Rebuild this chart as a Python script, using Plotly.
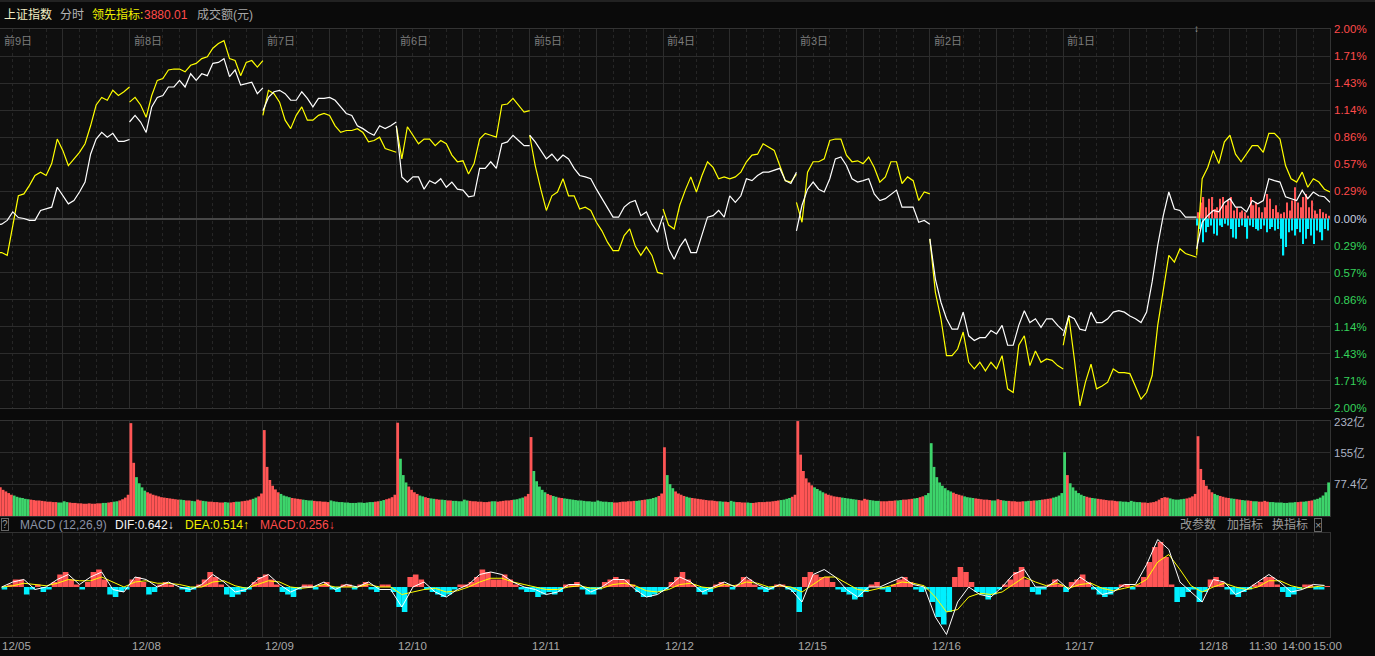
import plotly.graph_objects as go

# ---------------- data ----------------
DATES = ["12/05", "12/08", "12/09", "12/10", "12/11", "12/12", "12/15", "12/16", "12/17", "12/18"]
DAY_TAGS = ["前9日", "前8日", "前7日", "前6日", "前5日", "前4日", "前3日", "前2日", "前1日"]
TIME_LABELS = ["11:30", "14:00", "15:00"]
TIME_LABEL_MIN = [120, 180, 240]
DAY_MIN = 240          # trading minutes per day
PRICE_STEP = 10        # minutes between price samples
VOL_STEP = 5           # minutes per volume bar
HIST_STEP = 10         # minutes per MACD bar
LINE_STEP = 20         # minutes between DIF/DEA samples

LEAD_VALUE = "3880.01"
DIF_NOW, DEA_NOW, MACD_NOW = "0.642", "0.514", "0.256"

# 上证指数 (white) % change, one list per day, every 10 min
INDEX_PCT = [
    [-0.07, -0.06, -0.02, 0.07, 0.01, 0.0, -0.02, -0.02, 0.085, 0.10, 0.12, 0.33, 0.24, 0.155, 0.19, 0.28, 0.385, 0.68, 0.84, 0.91, 0.86, 0.90, 0.815, 0.815, 0.835],
    [1.02, 1.09, 1.02, 0.91, 1.18, 1.28, 1.30, 1.39, 1.39, 1.46, 1.39, 1.53, 1.46, 1.53, 1.51, 1.64, 1.65, 1.69, 1.50, 1.57, 1.41, 1.425, 1.44, 1.32, 1.38],
    [1.14, 1.28, 1.34, 1.355, 1.32, 1.25, 1.25, 1.34, 1.27, 1.18, 1.27, 1.27, 1.28, 1.25, 1.18, 1.11, 1.09, 0.98, 0.95, 0.91, 0.88, 0.98, 0.95, 0.98, 1.02],
    [0.98, 0.44, 0.385, 0.44, 0.44, 0.31, 0.40, 0.37, 0.42, 0.33, 0.385, 0.31, 0.30, 0.23, 0.24, 0.53, 0.53, 0.60, 0.53, 0.79, 0.81, 0.88, 0.825, 0.77, 0.77],
    [0.88, 0.81, 0.72, 0.63, 0.68, 0.61, 0.67, 0.63, 0.53, 0.455, 0.44, 0.42, 0.31, 0.21, 0.12, 0.014, 0.014, 0.12, 0.17, 0.19, 0.03, 0.07, -0.06, -0.145, 0.03],
    [-0.04, -0.32, -0.43, -0.30, -0.215, -0.36, -0.36, -0.18, 0.014, 0.03, 0.085, 0.014, 0.24, 0.17, 0.24, 0.42, 0.40, 0.455, 0.49, 0.49, 0.51, 0.53, 0.40, 0.37, 0.49],
    [-0.13, 0.14, 0.31, 0.385, 0.31, 0.28, 0.42, 0.63, 0.65, 0.56, 0.42, 0.385, 0.40, 0.42, 0.26, 0.19, 0.21, 0.26, 0.30, 0.12, 0.12, 0.12, -0.04, -0.02, -0.06],
    [-0.215, -0.64, -0.885, -1.06, -1.17, -1.17, -0.99, -1.24, -1.29, -1.26, -1.26, -1.185, -1.22, -1.13, -1.34, -1.34, -1.13, -0.975, -1.10, -1.06, -1.15, -1.06, -1.06, -1.13, -1.185],
    [-1.24, -1.03, -1.06, -1.17, -1.185, -0.99, -1.10, -1.10, -1.06, -0.99, -0.975, -0.99, -1.03, -1.06, -1.10, -0.99, -0.67, -0.285, 0.03, 0.28, 0.10, 0.085, 0.014, 0.014, 0.014],
    [-0.32, -0.04, 0.03, 0.085, 0.07, 0.17, 0.21, 0.12, 0.12, 0.07, 0.19, 0.155, 0.19, 0.42, 0.40, 0.385, 0.23, 0.21, 0.19, 0.30, 0.21, 0.28, 0.24, 0.23, 0.17],
]

# 领先指标 (yellow) % change, one list per day, every 10 min
LEAD_PCT = [
    [-0.36, -0.36, -0.39, -0.07, 0.24, 0.26, 0.35, 0.455, 0.49, 0.455, 0.58, 0.84, 0.72, 0.56, 0.63, 0.70, 0.79, 0.98, 1.20, 1.28, 1.25, 1.355, 1.30, 1.34, 1.39],
    [1.23, 1.28, 1.20, 1.07, 1.30, 1.46, 1.48, 1.57, 1.58, 1.58, 1.55, 1.62, 1.64, 1.69, 1.71, 1.80, 1.85, 1.88, 1.69, 1.67, 1.51, 1.65, 1.67, 1.60, 1.67],
    [1.09, 1.355, 1.32, 1.23, 1.04, 0.95, 1.09, 1.18, 1.04, 1.04, 1.09, 1.11, 1.09, 0.98, 0.91, 0.93, 0.93, 0.95, 0.91, 0.81, 0.825, 0.86, 0.74, 0.72, 0.70],
    [0.98, 0.63, 0.97, 0.88, 0.79, 0.84, 0.84, 0.77, 0.825, 0.79, 0.67, 0.60, 0.61, 0.47, 0.58, 0.84, 0.90, 0.88, 0.86, 1.20, 1.21, 1.27, 1.20, 1.125, 1.14],
    [0.88, 0.56, 0.31, 0.085, 0.24, 0.28, 0.42, 0.24, 0.24, 0.10, 0.12, 0.085, -0.04, -0.13, -0.25, -0.34, -0.34, -0.18, -0.11, -0.29, -0.39, -0.30, -0.39, -0.57, -0.585],
    [0.10, -0.07, -0.11, 0.14, 0.30, 0.44, 0.28, 0.455, 0.60, 0.54, 0.42, 0.44, 0.42, 0.44, 0.49, 0.60, 0.67, 0.68, 0.79, 0.755, 0.72, 0.56, 0.40, 0.385, 0.47],
    [0.17, -0.04, 0.49, 0.60, 0.60, 0.63, 0.825, 0.84, 0.84, 0.67, 0.60, 0.61, 0.58, 0.65, 0.54, 0.385, 0.44, 0.60, 0.60, 0.37, 0.44, 0.40, 0.19, 0.28, 0.26],
    [-0.215, -0.78, -1.06, -1.45, -1.45, -1.38, -1.20, -1.52, -1.59, -1.52, -1.61, -1.52, -1.59, -1.45, -1.80, -1.84, -1.34, -1.24, -1.555, -1.40, -1.52, -1.485, -1.50, -1.555, -1.59],
    [-1.34, -1.03, -1.485, -1.98, -1.73, -1.54, -1.80, -1.77, -1.73, -1.59, -1.63, -1.63, -1.64, -1.77, -1.91, -1.84, -1.66, -1.13, -0.745, -0.39, -0.46, -0.32, -0.37, -0.39, -0.41],
    [-0.39, 0.42, 0.54, 0.72, 0.58, 0.81, 0.88, 0.68, 0.60, 0.68, 0.77, 0.77, 0.70, 0.90, 0.90, 0.84, 0.56, 0.42, 0.385, 0.49, 0.33, 0.42, 0.385, 0.31, 0.28],
]

# today's red / cyan strength bars around the zero line (%), every 5 min
TODAY_UP = [0.067, 0.17, 0.226, 0.12, 0.21, 0.226, 0.10, 0.12, 0.21, 0.226, 0.14, 0.19, 0.226, 0.085, 0.12, 0.067,
            0.085, 0.067, 0.03, 0.226, 0.14, 0.17, 0.12, 0.067, 0.12, 0.26, 0.21, 0.10, 0.14, 0.067, 0.05, 0.067,
            0.17, 0.085, 0.19, 0.33, 0.17, 0.12, 0.226, 0.26, 0.12, 0.19, 0.085, 0.05, 0.10, 0.067, 0.05, 0.03]
TODAY_DOWN = [-0.074, -0.11, -0.25, -0.145, -0.09, -0.074, -0.16, -0.18, -0.074, -0.09, -0.056, -0.074, -0.11, -0.2, -0.215, -0.09,
              -0.074, -0.09, -0.215, -0.074, -0.09, -0.11, -0.127, -0.11, -0.074, -0.145, -0.11, -0.09, -0.127, -0.11, -0.215, -0.39,
              -0.30, -0.145, -0.127, -0.18, -0.11, -0.145, -0.27, -0.215, -0.11, -0.18, -0.27, -0.127, -0.145, -0.23, -0.11, -0.127]

# 成交额 per minute (亿), one list per day, 5-min bars
VOLUME = [
    [78, 70, 64, 60, 56, 52, 50, 47, 45, 44, 42, 41, 40, 39, 38, 38, 37, 36, 35, 35, 34, 34, 33, 33, 36, 34, 33, 32, 32, 31, 31, 30, 30, 31, 30, 30, 31, 31, 32, 32, 33, 34, 35, 36, 38, 41, 45, 52],
    [227, 130, 95, 80, 70, 62, 58, 55, 52, 50, 48, 46, 45, 44, 43, 42, 41, 40, 40, 39, 38, 38, 37, 36, 40, 38, 37, 36, 35, 35, 34, 34, 33, 33, 34, 33, 33, 34, 35, 35, 36, 37, 38, 40, 42, 45, 48, 55],
    [210, 120, 88, 74, 65, 58, 54, 50, 48, 46, 44, 43, 42, 41, 40, 39, 38, 38, 37, 36, 36, 35, 35, 34, 38, 36, 35, 34, 34, 33, 33, 32, 32, 32, 33, 33, 32, 33, 34, 34, 35, 36, 37, 39, 41, 43, 46, 52],
    [228, 140, 100, 82, 72, 64, 58, 54, 50, 48, 46, 44, 43, 42, 41, 40, 40, 39, 38, 38, 37, 37, 36, 36, 40, 38, 37, 36, 36, 35, 35, 34, 34, 35, 36, 36, 35, 36, 37, 38, 38, 39, 40, 41, 43, 45, 48, 54],
    [193, 110, 85, 72, 64, 58, 54, 51, 49, 47, 45, 44, 43, 42, 41, 40, 39, 38, 38, 37, 36, 36, 35, 35, 38, 36, 35, 35, 34, 34, 33, 33, 34, 35, 35, 36, 36, 37, 37, 38, 39, 40, 41, 42, 44, 46, 49, 55],
    [168, 100, 78, 68, 60, 55, 52, 49, 47, 45, 44, 43, 42, 41, 40, 39, 38, 38, 37, 36, 36, 35, 35, 34, 37, 35, 34, 34, 33, 33, 33, 32, 32, 33, 34, 34, 34, 35, 35, 36, 37, 38, 39, 40, 42, 44, 47, 52],
    [232, 150, 110, 92, 82, 75, 70, 66, 62, 58, 55, 52, 50, 48, 47, 46, 45, 44, 43, 42, 41, 40, 39, 38, 42, 40, 39, 38, 37, 37, 36, 36, 36, 37, 37, 38, 38, 39, 40, 40, 41, 42, 43, 44, 46, 48, 51, 56],
    [178, 120, 95, 82, 74, 68, 63, 60, 57, 54, 52, 50, 48, 46, 45, 44, 43, 42, 41, 40, 40, 39, 38, 38, 41, 39, 38, 37, 37, 36, 36, 35, 35, 36, 36, 37, 37, 38, 38, 39, 40, 41, 42, 43, 45, 47, 50, 56],
    [156, 100, 80, 70, 62, 56, 52, 49, 47, 45, 44, 43, 42, 41, 40, 39, 38, 38, 37, 36, 36, 35, 35, 34, 37, 35, 34, 34, 33, 33, 32, 33, 34, 36, 40, 44, 46, 45, 43, 41, 40, 40, 41, 42, 43, 45, 48, 54],
    [195, 115, 88, 74, 65, 58, 54, 51, 49, 47, 45, 44, 43, 42, 41, 40, 39, 38, 38, 37, 36, 36, 35, 35, 37, 35, 34, 34, 33, 33, 33, 32, 32, 33, 33, 34, 34, 35, 35, 36, 37, 38, 40, 42, 45, 50, 58, 82],
]
# colour of each day's opening volume bar as seen in the picture (True = red)
OPEN_BAR_UP = [True, True, True, True, True, True, True, False, False, True]

# MACD histogram, one list per day, 10-min bars
MACD_HIST = [
    [0, -1, 1, 3, 3, -3, -1, 1, -2, -1, 2, 5, 6, 3, 1, -1, 2, 6, 7, 3, -3, -4, -2, -1],
    [3, 4, 2, -3, -2, 1, 2, 1, 0, -1, -2, -1, 1, 3, 6, 4, 1, -3, -4, -3, -2, -1, 2, 4],
    [5, 3, 1, -2, -3, -4, -1, 1, 1, -1, 1, 2, -1, -2, 1, 1, -1, 1, 2, -1, -2, 1, 1, -2],
    [-8, -10, 4, 5, 3, -1, -2, -3, -4, -3, -1, 1, 1, 2, 4, 7, 6, 3, 3, 5, 3, 1, -1, -2],
    [-2, -4, -3, -2, -3, -2, 1, 1, 2, -1, -3, -3, -1, 2, 3, 4, 3, 3, 1, -2, -4, -4, -3, -2],
    [-1, 2, 4, 6, 3, 1, -2, -3, -2, 1, 2, 1, -1, 1, 4, 3, 1, -1, -2, -1, 1, 1, -1, -2],
    [-10, 4, 6, 5, 4, 4, 2, -1, -2, -3, -5, -4, -2, 1, 2, -1, -2, 1, 3, 4, 2, -1, -2, -1],
    [-6, -12, -15, -10, 4, 8, 6, 2, -2, -3, -5, -3, -1, 1, 3, 6, 8, 3, -2, -3, -1, 1, 3, 1],
    [-2, 2, 3, 5, 2, -1, -3, -4, -3, -1, 1, 1, -1, 1, 4, 10, 16, 18, 12, 1, -6, -4, -2, -1],
    [-6, -2, 3, 4, 2, -1, -3, -4, -2, -1, 1, 2, 4, 4, 1, -2, -4, -3, -1, 1, 1, -1, -1, 0.26],
]

# DIF (white) and DEA (yellow), one list per day, every 20 min
DIF = [
    [0, 2, 3, -1, 0, 3, 5, 1, 4, 6, -1, -2],
    [4, 3, 0, 2, 0, -1, 1, 5, 2, -2, -1, 3],
    [5, 1, -2, 0, 0, 2, -1, 1, 0, 2, -1, -1],
    [-8, 0, 2, -2, -4, -1, 1, 5, 6, 5, 2, 0],
    [-1, -3, -2, 1, 1, -2, 0, 3, 3, -1, -4, -3],
    [0, 4, 2, -2, 0, 2, 0, 4, 1, -1, 1, -1],
    [-6, 5, 7, 4, -1, -4, 0, 0, 2, 4, 1, 0],
    [-12, -19, -6, 0, -3, -4, 0, 5, 7, 0, 0, 3],
    [-1, 4, 1, -3, -2, 1, 1, 9, 19, 15, 2, -2],
    [-6, 3, 2, -3, -1, 2, 5, 2, -2, -1, 1, 0.64],
]
DEA = [
    [0, 0.5, 1.5, 1, 0.5, 1.5, 3, 2.5, 2.5, 4, 2, 0],
    [2, 2.5, 1.5, 1.5, 1, 0, 0, 2, 2.5, 0.5, -0.5, 1],
    [2.5, 2, 0, -0.5, 0, 1, 0, 0, 0, 1, 0, 0],
    [-3, -2, -1, -0.5, -2, -1.5, 0, 2, 3.5, 3.5, 2, 1],
    [0, -1, -1, 0, 0.5, -0.5, -0.5, 1, 1.5, 0.5, -1.5, -2],
    [-1, 1, 1.5, 0, -0.5, 1, 0.5, 2, 1.5, 0, 0.5, 0],
    [-2, 1, 4, 4, 1.5, -1, -1.5, -0.5, 0.5, 2, 1.5, 0.5],
    [-4, -10, -9, -4, -2.5, -3, -2, 1, 4, 2, 0.5, 1.5],
    [-0.5, 1, 1.5, -0.5, -1.5, -0.5, 0.5, 3, 10, 13, 7, 0.5],
    [-2, 0, 1.5, 0, -1, 0, 2.5, 2.5, 0.5, -0.5, 0, 0.51],
]

VOL_MAX = 232.2
VOL_TICKS = [77.4, 154.8, 232.2]
VOL_TICK_TEXT = ["77.4亿", "155亿", "232亿"]

# ---------------- styling ----------------
W, H = 1375, 656
PLOT_R = 1330
FONT = "Arial, 'Noto Sans CJK SC', sans-serif"
BG = "#0a0a0a"
PLOT_BG = "#0f0f0f"
GRID = "#2c2c2c"
GRID_MINOR = "#262626"
BORDER = "#333333"
RED = "#ff5555"
GREEN = "#3dd46b"
CYAN = "#00f0ff"
YELLOW = "#ffff00"
WHITE = "#ffffff"
N = len(DATES)


def px_x(px):
    return px / PLOT_R


def px_y(py):
    return 1 - py / H


fig = go.Figure()

# ---- price panel ----
def day_series(series, step):
    xs, ys = [], []
    for d, vals in enumerate(series):
        for j, v in enumerate(vals):
            xs.append(d * DAY_MIN + j * step)
            ys.append(v)
        xs.append(None)
        ys.append(None)
    return xs, ys

last = N - 1
fig.add_trace(go.Bar(x=[last * DAY_MIN + k * VOL_STEP + 2.5 for k in range(len(TODAY_UP))], y=TODAY_UP,
                     width=2.2, marker=dict(color=RED, line=dict(width=0)), xaxis="x", yaxis="y"))
fig.add_trace(go.Bar(x=[last * DAY_MIN + k * VOL_STEP + 1.5 for k in range(len(TODAY_DOWN))], y=TODAY_DOWN,
                     width=2.2, marker=dict(color=CYAN, line=dict(width=0)), xaxis="x", yaxis="y"))

lx, ly = day_series(LEAD_PCT, PRICE_STEP)
fig.add_trace(go.Scatter(x=lx, y=ly, mode="lines", line=dict(color=YELLOW, width=1.2), xaxis="x", yaxis="y"))
ix, iy = day_series(INDEX_PCT, PRICE_STEP)
fig.add_trace(go.Scatter(x=ix, y=iy, mode="lines", line=dict(color=WHITE, width=1.2), xaxis="x", yaxis="y"))

# ---- volume panel ----
vx, vy, vc = [], [], []
for d, vals in enumerate(VOLUME):
    idx = INDEX_PCT[d]
    for k, v in enumerate(vals):
        vx.append(d * DAY_MIN + k * VOL_STEP + VOL_STEP / 2)
        vy.append(v)
        if k == 0:
            up = OPEN_BAR_UP[d]
        else:
            j = min(k * VOL_STEP // PRICE_STEP, len(idx) - 2)
            up = idx[j + 1] >= idx[j]
        vc.append(RED if up else GREEN)
fig.add_trace(go.Bar(x=vx, y=vy, width=VOL_STEP, marker=dict(color=vc, line=dict(width=0)), xaxis="x2", yaxis="y2"))

# ---- MACD panel ----
hx, hy, hc = [], [], []
for d, vals in enumerate(MACD_HIST):
    for j, v in enumerate(vals):
        hx.append(d * DAY_MIN + j * HIST_STEP + HIST_STEP / 2)
        hy.append(v)
        hc.append(RED if v >= 0 else CYAN)
fig.add_trace(go.Bar(x=hx, y=hy, width=HIST_STEP, marker=dict(color=hc, line=dict(width=0)), xaxis="x3", yaxis="y3"))


def cont_series(series, step):
    xs, ys = [], []
    for d, vals in enumerate(series):
        for j, v in enumerate(vals):
            xs.append(d * DAY_MIN + j * step + step / 2)
            ys.append(v)
    return xs, ys

dx, dy = cont_series(DEA, LINE_STEP)
fig.add_trace(go.Scatter(x=dx, y=dy, mode="lines", line=dict(color=YELLOW, width=1), xaxis="x3", yaxis="y3"))
fx, fy = cont_series(DIF, LINE_STEP)
fig.add_trace(go.Scatter(x=fx, y=fy, mode="lines", line=dict(color=WHITE, width=1), xaxis="x3", yaxis="y3"))

# ---------------- axes ----------------
major_x = []
for d in range(N):
    major_x += [d * DAY_MIN, d * DAY_MIN + DAY_MIN / 2]
major_x += [last * DAY_MIN + 60, last * DAY_MIN + 180, N * DAY_MIN]

xcommon = dict(range=[7, N * DAY_MIN], showticklabels=False, ticks="", tickmode="array", tickvals=major_x,
               showgrid=True, gridcolor=GRID, gridwidth=1, zeroline=False,
               showline=True, mirror=True, linecolor=BORDER, linewidth=1,
               minor=dict(tickmode="linear", tick0=0, dtick=30, showgrid=True, gridcolor=GRID_MINOR, griddash="dot", ticks=""))

pct_ticks = [i * 2 / 7 for i in range(-7, 8)]

fig.update_layout(
    width=W, height=H, margin=dict(l=0, r=W - PLOT_R, t=0, b=0),
    paper_bgcolor=BG, plot_bgcolor=PLOT_BG, showlegend=False, barmode="overlay",
    font=dict(family=FONT, size=12, color="#999999"),
    xaxis=dict(anchor="y", domain=[0, 1], **xcommon),
    xaxis2=dict(anchor="y2", domain=[0, 1], matches="x", **xcommon),
    xaxis3=dict(anchor="y3", domain=[0, 1], matches="x", **xcommon),
    yaxis=dict(domain=[px_y(407.7), px_y(29.3)], range=[-2, 2], tickmode="array", tickvals=pct_ticks,
               showticklabels=False, ticks="", showgrid=True, gridcolor=GRID, zeroline=True,
               zerolinecolor="#474747", zerolinewidth=2, showline=True, mirror=True, linecolor=BORDER),
    yaxis2=dict(domain=[px_y(516), px_y(421)], range=[0, VOL_MAX], tickmode="array", tickvals=VOL_TICKS,
                showticklabels=False, ticks="", showgrid=True, gridcolor=GRID, zeroline=False,
                showline=True, mirror=True, linecolor=BORDER),
    yaxis3=dict(domain=[px_y(637), px_y(533)], range=[-20, 21.6], tickmode="array", tickvals=[],
                showticklabels=False, ticks="", showgrid=False, zeroline=False,
                showline=True, mirror=True, linecolor=BORDER),
)

# ---------------- text ----------------
ann = []


def text(x, y, s, color, size=12, xanchor="left", xref="paper", yref="paper", **kw):
    ann.append(dict(x=x, y=y, text=s, xref=xref, yref=yref, xanchor=xanchor, yanchor="middle",
                    showarrow=False, font=dict(family=FONT, size=size, color=color), **kw))

# header
text(px_x(2), px_y(15), "上证指数", "#f2eec4")
text(px_x(58), px_y(15), "分时", "#b4b4b4")
text(px_x(90), px_y(15), "领先指标:", "#f0f000")
text(px_x(142), px_y(15), LEAD_VALUE, "#ff4a4a")
text(px_x(195), px_y(15), "成交额(元)", "#a8a8a8")

# day tags
for d, tag in enumerate(DAY_TAGS):
    text(max(d * DAY_MIN, 7), px_y(40.5), tag, "#7c7c7c", size=11, xref="x", xshift=2)

# right percent labels
for v in pct_ticks:
    if abs(v) < 1e-9:
        col = "#c8d0e0"
    elif v > 0:
        col = "#ff4a4a"
    else:
        col = "#35d35a"
    text(px_x(1332), v, f"{abs(v):.2f}%", col, size=11.5, yref="y")

# volume labels
for v, s in zip(VOL_TICKS, VOL_TICK_TEXT):
    text(px_x(1332), v, s, "#aeb4c4", size=11.5, yref="y2", yshift=-1 if v == VOL_MAX else 0)

# MACD header
text(px_x(1), px_y(524.5), "?", "#9a9a9a", size=10, bordercolor="#666666", borderwidth=1, borderpad=0)
text(px_x(18), px_y(524.5), "MACD (12,26,9)", "#8a92a6")
text(px_x(113), px_y(524.5), f"DIF:{DIF_NOW}↓", "#f4f4f4")
text(px_x(183), px_y(524.5), f"DEA:{DEA_NOW}↑", "#f0f000")
text(px_x(258), px_y(524.5), f"MACD:{MACD_NOW}↓", "#ff4a4a")
text(px_x(1178), px_y(524.5), "改参数", "#9a9a9a")
text(px_x(1225), px_y(524.5), "加指标", "#9a9a9a")
text(px_x(1270), px_y(524.5), "换指标", "#9a9a9a")
text(px_x(1314), px_y(524.5), "×", "#9a9a9a", size=11, bordercolor="#666666", borderwidth=1, borderpad=0)

# date axis
for d, s in enumerate(DATES):
    text(max(d * DAY_MIN, 7), px_y(646), s, "#a8a8a8", size=11.5, xref="x3")
for m, s in zip(TIME_LABEL_MIN, TIME_LABELS):
    text(last * DAY_MIN + m, px_y(646), s, "#a8a8a8", size=11.5, xanchor="center", xref="x3",
         xshift=-3 if m == DAY_MIN else 0)

# marker at today's start
text(last * DAY_MIN, px_y(29), "↕", "#9a9a9a", size=10, xanchor="center", xref="x")

fig.update_layout(annotations=ann)
fig.add_shape(type="line", xref="paper", yref="paper", x0=0, x1=W / PLOT_R, y0=px_y(1), y1=px_y(1),
              line=dict(color="#3a3a3a", width=1))

fig.write_html("out.html", config={"displayModeBar": False},
               post_script="document.body.style.margin='0';document.body.style.overflow='hidden';")
